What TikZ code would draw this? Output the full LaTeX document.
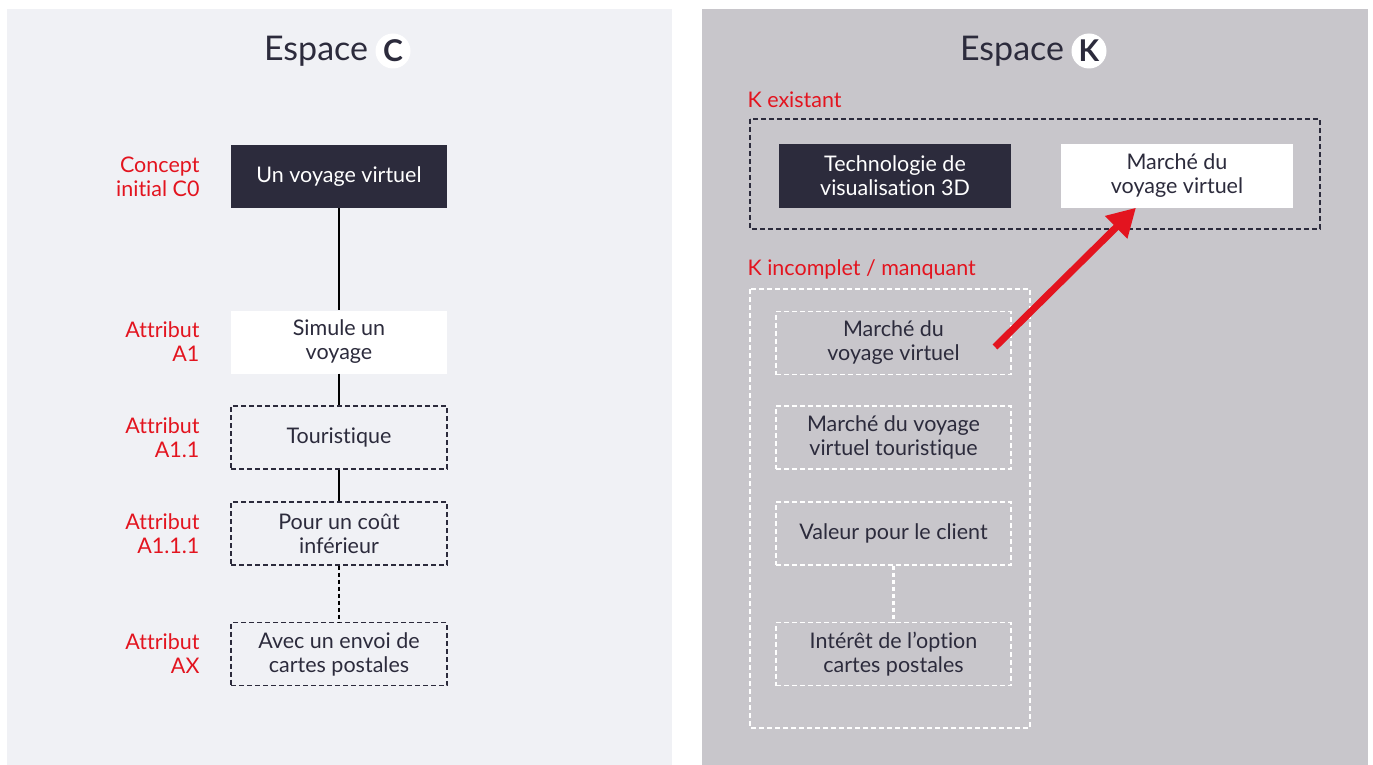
\documentclass[tikz,border=0pt]{standalone}
\usepackage{fontspec}
\setmainfont{Lato}[Ligatures=NoCommon]
\usetikzlibrary{arrows.meta}
\definecolor{inkdark}{HTML}{2C2B3C}
\definecolor{paneC}{HTML}{F0F1F5}
\definecolor{paneK}{HTML}{C8C6CB}
\definecolor{accent}{HTML}{E3141F}
\tikzset{
  x=1pt, y=-1pt,
  txt/.style={font=\fontsize{21.5}{24}\selectfont, align=center, text=inkdark},
  box/.style={txt, minimum width=216pt, minimum height=63pt, inner sep=0pt},
  darkbox/.style={box, fill=inkdark, text=white},
  whitebox/.style={box, fill=white},
  dashbox/.style={box, draw=inkdark, line width=1.1pt, dash pattern=on 5pt off 3pt},
  wdashbox/.style={box, minimum width=235pt, draw=white, line width=1.1pt, dash pattern=on 5pt off 3pt},
  tag/.style={font=\fontsize{21.5}{24}\selectfont, text=accent, align=right, anchor=east},
  sectag/.style={font=\fontsize{21.5}{24}\selectfont, text=accent, anchor=west},
  title/.style={font=\fontsize{34}{40}\selectfont, text=inkdark},
  badge/.style={circle, fill=white, minimum size=35pt, inner sep=0pt, font=\fontsize{30}{34}\selectfont\bfseries, text=inkdark},
  link/.style={line width=2.6pt, draw=black},
}
\begin{document}
\begin{tikzpicture}
\useasboundingbox (0,0) rectangle (1373,765);
\fill[white] (0,0) rectangle (1373,765);
% the two panels
\fill[paneC] (7,9) rectangle (672,765);
\fill[paneK] (702,9) rectangle (1368,765);

% panel titles
\node[title] (tC) at (316,51) {Espace};
\node[badge] (bC) at (393,51) {C};
\node[title] (tK) at (1012,51) {Espace};
\node[badge] (bK) at (1089,51) {K};

% concept tree
\node[darkbox]  (c0)   at (339,176.5) {Un voyage virtuel};
\node[whitebox] (a1)   at (339,342)   {Simule un\\voyage};
\node[dashbox]  (a11)  at (339,437.5) {Touristique};
\node[dashbox]  (a111) at (339,533.5) {Pour un coût\\inférieur};
\node[dashbox]  (ax)   at (339,654)   {Avec un envoi de\\cartes postales};

\draw[link] (c0) -- (a1);
\draw[link] (a1) -- (a11);
\draw[link] (a11) -- (a111);
\draw[link, dash pattern=on 4pt off 3pt] (a111) -- (ax);

\node[tag] (l0)   at (203,177) {Concept\\initial C0};
\node[tag] (l1)   at (203,342) {Attribut\\A1};
\node[tag] (l11)  at (203,438) {Attribut\\A1.1};
\node[tag] (l111) at (203,534) {Attribut\\A1.1.1};
\node[tag] (lx)   at (203,654) {Attribut\\AX};

% existing knowledge
\node[sectag] (kex) at (744,100) {K existant};
\draw[draw=inkdark, line width=1.1pt, dash pattern=on 5pt off 3pt] (750,119) rectangle (1320,229);
\node[darkbox, minimum width=232pt]  (tech) at (895,176) {Technologie de\\visualisation 3D};
\node[whitebox, minimum width=232pt] (mkt)  at (1177,176) {Marché du\\voyage virtuel};

% missing knowledge
\node[sectag] (kin) at (744,269) {K incomplet / manquant};
\draw[draw=white, line width=1.1pt, dash pattern=on 5pt off 3pt] (750,289) rectangle (1030,728);
\node[wdashbox] (m1) at (893.5,343)   {Marché du\\voyage virtuel};
\node[wdashbox] (m2) at (893.5,437.5) {Marché du voyage\\virtuel touristique};
\node[wdashbox] (m3) at (893.5,533.5) {Valeur pour le client};
\node[wdashbox] (m4) at (893.5,654)   {Intérêt de l’option\\cartes postales};
\draw[draw=white, line width=2.6pt, dash pattern=on 4pt off 3pt] (m3) -- (m4);

% transfer arrow
\coordinate (from) at (995,347);
\draw[accent, line width=7pt, -{Triangle[length=28pt,width=30pt]}] (from) -- (mkt.south west -| 1136,222);
\end{tikzpicture}
\end{document}
